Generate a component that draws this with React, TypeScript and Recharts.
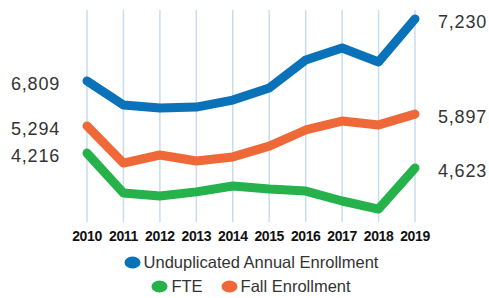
import React from "react"
import { LineChart, Line, XAxis, YAxis, CartesianGrid, Legend, LabelList } from "recharts"

const years = ["2010", "2011", "2012", "2013", "2014", "2015", "2016", "2017", "2018", "2019"]

// the original draws each line without a shared scale, so heights are read as a 0-100 index
const unduplicated = [66.5, 55.2, 53.8, 54.2, 57.5, 63.2, 76.4, 82.1, 75.5, 95.8]
const fte = [32.5, 13.7, 12.3, 14.2, 17.0, 15.6, 14.6, 9.9, 6.1, 25.5]
const fall = [45.3, 27.8, 31.6, 28.8, 30.7, 35.8, 43.4, 47.6, 45.8, 50.9]

// printed first / last values
const unduplicatedEnds = [6809, 7230]
const fteEnds = [4216, 4623]
const fallEnds = [5294, 5897]

// legend rows, top to bottom
const legendRows = [["unduplicated"], ["fte", "fall"]]

const data = years.map((year, i) => ({
  year,
  unduplicated: unduplicated[i],
  fte: fte[i],
  fall: fall[i],
}))

const BLUE = "#0a72b9"
const GREEN = "#25b24a"
const ORANGE = "#ef6837"
const FONT = "'Liberation Sans', Arial, sans-serif"

function endLabel(ends: number[]) {
  return (props: any) => {
    const { x, y, index } = props
    const last = years.length - 1
    if (index !== 0 && index !== last) return null
    const value = ends[index === 0 ? 0 : 1].toLocaleString("en-US")
    return (
      <text
        x={index === 0 ? x - 27 : x + 23}
        y={y + 3}
        textAnchor={index === 0 ? "end" : "start"}
        dominantBaseline="central"
        fontFamily={FONT}
        fontSize={18}
        letterSpacing={0.8}
        fill="#333"
      >
        {value}
      </text>
    )
  }
}

function LegendItem({ color, label }: { color: string; label: string }) {
  return (
    <span style={{ display: "inline-flex", alignItems: "center", margin: "0 9px", whiteSpace: "nowrap" }}>
      <svg width={17} height={13} style={{ marginRight: 3 }}>
        <ellipse cx={8.5} cy={6.5} rx={8} ry={6} fill={color} />
      </svg>
      {label}
    </span>
  )
}

function renderLegend(props: any) {
  const payload = props.payload || []
  return (
    <div style={{ fontFamily: FONT, fontSize: 16.5, color: "#333", textAlign: "center", paddingTop: 6, whiteSpace: "nowrap" }}>
      {legendRows.map((row, r) => (
        <div key={r} style={{ height: 24, lineHeight: "24px" }}>
          {row.map((key) => {
            const p = payload.find((q: any) => q.dataKey === key)
            return p ? <LegendItem key={key} color={p.color} label={p.value} /> : null
          })}
        </div>
      ))}
    </div>
  )
}

export default function App() {
  return (
    <div style={{ position: "absolute", left: 0, top: 0 }}>
      <LineChart width={489} height={298} data={data} margin={{ top: 10, right: 74, left: 87, bottom: 0 }}>
        <CartesianGrid horizontal={false} stroke="#c7dcef" strokeWidth={1.5} />
        <XAxis
          dataKey="year"
          axisLine={false}
          tickLine={false}
          height={22}
          tickMargin={3}
          interval={0}
          tick={{ fill: "#111", fontSize: 14, fontWeight: 700, fontFamily: FONT, letterSpacing: -0.4 }}
        />
        <YAxis hide domain={[0, 100]} />
        <Legend verticalAlign="bottom" content={renderLegend} />
        <Line
          dataKey="unduplicated"
          name="Unduplicated Annual Enrollment"
          stroke={BLUE}
          strokeWidth={9}
          strokeLinecap="round"
          strokeLinejoin="round"
          dot={false}
          activeDot={false}
          isAnimationActive={false}
        >
          <LabelList dataKey="unduplicated" content={endLabel(unduplicatedEnds)} />
        </Line>
        <Line
          dataKey="fte"
          name="FTE"
          stroke={GREEN}
          strokeWidth={9}
          strokeLinecap="round"
          strokeLinejoin="round"
          dot={false}
          activeDot={false}
          isAnimationActive={false}
        >
          <LabelList dataKey="fte" content={endLabel(fteEnds)} />
        </Line>
        <Line
          dataKey="fall"
          name="Fall Enrollment"
          stroke={ORANGE}
          strokeWidth={9}
          strokeLinecap="round"
          strokeLinejoin="round"
          dot={false}
          activeDot={false}
          isAnimationActive={false}
        >
          <LabelList dataKey="fall" content={endLabel(fallEnds)} />
        </Line>
      </LineChart>
    </div>
  )
}
